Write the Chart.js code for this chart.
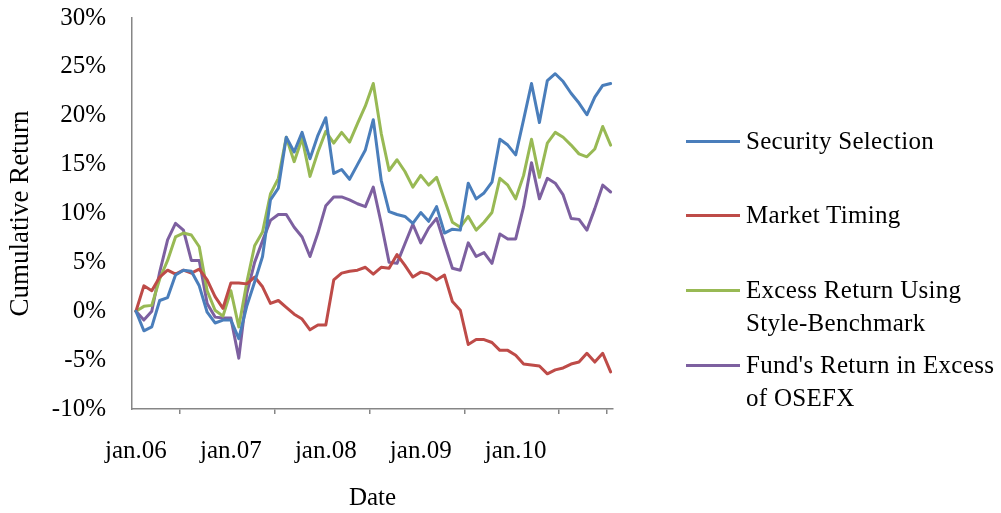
<!DOCTYPE html>
<html>
<head>
<meta charset="utf-8">
<script src="https://cdn.jsdelivr.net/npm/chart.js@4"></script>
<style>
  html, body { margin: 0; padding: 0; background: #fff; }
  #wrap { position: relative; width: 1001px; height: 513px; }
  #legend { position: absolute; left: 0; top: 0; width: 1001px; height: 513px; pointer-events: none;
            font-family: 'Liberation Serif', 'Times New Roman', serif; font-size: 25px; color: #000; }
  .item { position: absolute; left: 686px; }
  .swatch { position: absolute; left: 0; width: 54px; height: 3px; }
  .txt { position: absolute; left: 60px; white-space: pre; line-height: 33px; letter-spacing: 0.3px; }
</style>
</head>
<body>
<div id="wrap">
  <canvas id="c" width="1001" height="513"></canvas>
  <div id="legend"></div>
</div>
<script>
// ---- data ----
const months = [
  'jan.06','feb.06','mar.06','apr.06','mai.06','jun.06','jul.06','aug.06','sep.06','okt.06','nov.06','des.06',
  'jan.07','feb.07','mar.07','apr.07','mai.07','jun.07','jul.07','aug.07','sep.07','okt.07','nov.07','des.07',
  'jan.08','feb.08','mar.08','apr.08','mai.08','jun.08','jul.08','aug.08','sep.08','okt.08','nov.08','des.08',
  'jan.09','feb.09','mar.09','apr.09','mai.09','jun.09','jul.09','aug.09','sep.09','okt.09','nov.09','des.09',
  'jan.10','feb.10','mar.10','apr.10','mai.10','jun.10','jul.10','aug.10','sep.10','okt.10','nov.10','des.10',
  'jan.11'
];
const xTickLabels = ['jan.06','jan.07','jan.08','jan.09','jan.10'];
const yTickLabels = ['-10%','-5%','0%','5%','10%','15%','20%','25%','30%'];

const seriesNames = ['Security Selection', 'Market Timing', 'Excess Return Using\nStyle-Benchmark', "Fund's Return in Excess\nof OSEFX"];

const securitySelection = [
  0, -2.0, -1.6, 1.1, 1.4, 3.7, 4.2, 4.1, 2.6, -0.1, -1.2, -0.9,
  -0.9, -2.8, 0.5, 3.0, 5.6, 11.4, 12.6, 17.8, 16.3, 18.3, 15.6, 18.0,
  19.8, 14.1, 14.5, 13.5, 15.0, 16.5, 19.6, 13.4, 10.2, 9.9, 9.7, 9.0,
  10.1, 9.2, 10.7, 8.0, 8.4, 8.3, 13.1, 11.5, 12.1, 13.2, 17.6, 17.0,
  16.0, 19.6, 23.3, 19.3, 23.6, 24.3, 23.5, 22.3, 21.3, 20.1, 21.9, 23.1,
  23.3
];
const marketTiming = [
  0, 2.6, 2.1, 3.5, 4.2, 3.8, 4.2, 3.9, 4.3, 3.2, 1.5, 0.3,
  2.9, 2.9, 2.8, 3.5, 2.5, 0.8, 1.1, 0.4, -0.3, -0.8, -1.9, -1.4,
  -1.4, 3.2, 3.9, 4.1, 4.2, 4.5, 3.8, 4.5, 4.4, 5.8, 4.7, 3.5,
  4.0, 3.8, 3.2, 3.7, 1.0, 0.1, -3.4, -2.9, -2.9, -3.2, -4.0, -4.0,
  -4.5, -5.4, -5.5, -5.6, -6.4, -6.0, -5.8, -5.4, -5.2, -4.3, -5.2, -4.3,
  -6.2
];
const excessStyle = [
  0, 0.5, 0.6, 3.3, 5.2, 7.6, 8.0, 7.8, 6.6, 2.1, 0.1, -0.5,
  2.1, -1.6, 2.9, 6.7, 8.1, 12.0, 13.6, 17.8, 15.3, 17.7, 13.8, 16.3,
  18.4, 17.2, 18.3, 17.3, 19.2, 21.0, 23.3, 18.2, 14.4, 15.5, 14.3, 12.7,
  13.9, 12.9, 13.7, 11.4, 9.1, 8.6, 9.7, 8.3, 9.1, 10.1, 13.6, 12.9,
  11.5, 13.9, 17.6, 13.7, 17.2, 18.3, 17.8, 17.0, 16.1, 15.8, 16.6, 18.9,
  17.0
];
const fundExcessOSEFX = [
  0, -0.9, 0.0, 4.0, 7.3, 9.0, 8.3, 5.2, 5.2, 0.8, -0.6, -0.7,
  -0.7, -4.8, 1.8, 5.0, 7.2, 9.3, 9.9, 9.9, 8.6, 7.6, 5.6, 8.0,
  10.8, 11.7, 11.7, 11.4, 11.0, 10.7, 12.7, 9.0, 5.0, 4.9, 6.9, 8.9,
  7.0, 8.5, 9.5, 6.9, 4.4, 4.2, 7.0, 5.6, 6.0, 4.9, 7.9, 7.4,
  7.4, 10.7, 15.2, 11.5, 13.6, 13.1, 11.9, 9.5, 9.4, 8.3, 10.5, 12.9,
  12.2
];

// ---- styles / layout ----
const colors = ['#4A7EBB', '#BE4B48', '#98B954', '#7D60A0'];
const FONT = "'Liberation Serif', 'Times New Roman', serif";
const axisGrey = '#868686';
const labelIdx = xTickLabels.map(l => months.indexOf(l));
const tickMarkPos = [5.5, 17.5, 29.5, 41.5, 53.5, 59.5]; // category boundaries where tick marks sit
const legendY = [141, 215, 290, 365];

const allSeries = [securitySelection, marketTiming, excessStyle, fundExcessOSEFX];
const datasets = allSeries.map((s, k) => ({
  label: seriesNames[k],
  data: s.map((v, i) => ({ x: i, y: v })),
  borderColor: colors[k],
  backgroundColor: colors[k],
  borderWidth: 3,
  pointRadius: 0,
  tension: 0,
  borderJoinStyle: 'round',
  borderCapStyle: 'round',
  fill: false
}));

new Chart(document.getElementById('c'), {
  type: 'line',
  data: { datasets },
  options: {
    responsive: false,
    animation: false,
    layout: { padding: { top: 18, right: 388, bottom: 0, left: 0 } },
    plugins: { legend: { display: false }, tooltip: { enabled: false } },
    scales: {
      x: {
        type: 'linear',
        min: -0.5,
        max: 60.3,
        afterBuildTicks: (axis) => {
          const vals = [...labelIdx, ...tickMarkPos].sort((a, b) => a - b);
          axis.ticks = vals.map(v => ({ value: v }));
        },
        afterFit: (axis) => { axis.height = 104; axis.paddingLeft = 0; axis.paddingRight = 0; },
        ticks: {
          autoSkip: false,
          maxRotation: 0,
          minRotation: 0,
          padding: 22,
          color: '#000',
          font: { family: FONT, size: 25 },
          callback: (v) => { const k = labelIdx.indexOf(v); return k >= 0 ? xTickLabels[k] : ''; }
        },
        grid: {
          drawOnChartArea: false,
          drawTicks: true,
          tickLength: 5,
          lineWidth: 1.5,
          color: (ctx) => (ctx.tick && labelIdx.includes(ctx.tick.value)) ? 'rgba(0,0,0,0)' : axisGrey
        },
        border: { display: true, color: axisGrey, width: 1.5 },
        title: {
          display: true,
          text: 'Date',
          color: '#000',
          font: { family: FONT, size: 25 },
          padding: { top: 0, bottom: 0 }
        }
      },
      y: {
        min: -10,
        max: 30,
        afterBuildTicks: (axis) => {
          axis.ticks = yTickLabels.map(l => ({ value: parseFloat(l) }));
        },
        afterFit: (axis) => { axis.width = 132; axis.paddingTop = 0; axis.paddingBottom = 0; },
        ticks: {
          padding: 26,
          color: '#000',
          font: { family: FONT, size: 25 },
          callback: (v) => yTickLabels.find(l => parseFloat(l) === v)
        },
        grid: { display: false, drawTicks: false },
        border: { display: true, color: axisGrey, width: 1.5 },
        title: {
          display: true,
          text: 'Cumulative Return',
          color: '#000',
          font: { family: FONT, size: 27 },
          padding: { top: 5, bottom: 0 }
        }
      }
    }
  }
});

// ---- legend (HTML text) ----
const leg = document.getElementById('legend');
seriesNames.forEach((name, k) => {
  const item = document.createElement('div');
  item.className = 'item';
  item.style.top = legendY[k] + 'px';
  const sw = document.createElement('div');
  sw.className = 'swatch';
  sw.style.background = colors[k];
  sw.style.top = '-1.5px';
  const tx = document.createElement('div');
  tx.className = 'txt';
  tx.style.top = '-17px';
  tx.textContent = name;
  item.appendChild(sw);
  item.appendChild(tx);
  leg.appendChild(item);
});
</script>
</body>
</html>
